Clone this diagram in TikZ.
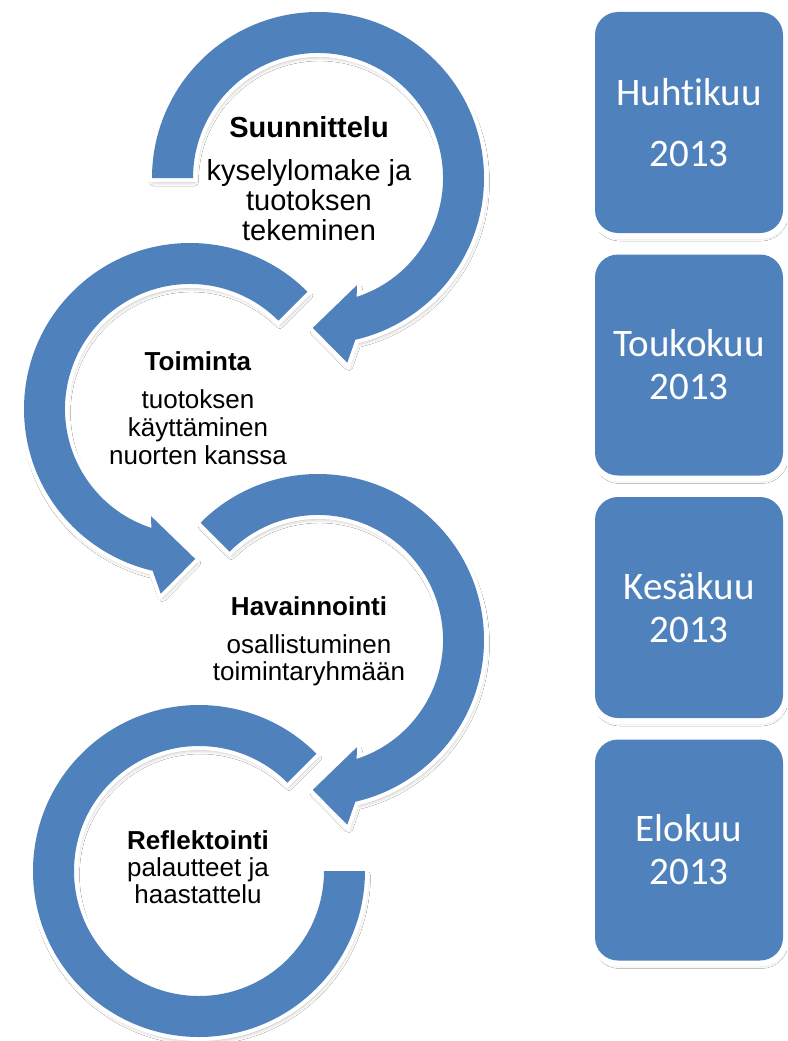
\documentclass[tikz,border=0pt]{standalone}
\usepackage{fontspec}
\setmainfont{Liberation Sans}
\newfontfamily\calibfont[Ligatures=NoCommon]{Carlito}
\usetikzlibrary{shadows.blur}

\definecolor{bandblue}{RGB}{79,129,189}

\begin{document}
\begin{tikzpicture}[x=1pt,y=1pt,
  band/.style={fill=bandblue,
    blur shadow={shadow xshift=1.5pt,shadow yshift=-4pt,shadow blur radius=4pt,shadow opacity=30},
    preaction={draw=white,line width=8pt,line join=miter}},
  stagetext/.style={align=center,inner sep=0pt,anchor=north,text=black},
  monthbox/.style={fill=bandblue,rounded corners=23pt,minimum width=188pt,minimum height=221pt,
    inner sep=0pt,align=center,text=white,font=\calibfont\fontsize{39}{43}\selectfont,
    blur shadow={shadow xshift=1.5pt,shadow yshift=-4pt,shadow blur radius=4pt,shadow opacity=30},
    preaction={draw=white,line width=12pt}}]
\path[fill=white] (0,0) rectangle (787,-1041);
\useasboundingbox (0,0) rectangle (787,-1041);

\coordinate (c1) at (318,-178);
\coordinate (c2) at (190,-409);
\coordinate (c3) at (318,-640);
\coordinate (c4) at (199,-871);

% circle arrows
\begin{scope}[shift={(c1)}]
\path[band] (180:166) arc[start angle=180,end angle=-77,radius=166] -- (-81:187) -- (-92:150)
  -- (-70:114) -- (-72:125) arc[start angle=-72,end angle=180,radius=125] -- cycle;
\end{scope}
\begin{scope}[shift={(c2)}]
\path[band] (45:166) arc[start angle=45,end angle=257,radius=166] -- (261:187) -- (272:150)
  -- (250:114) -- (252:125) arc[start angle=252,end angle=45,radius=125] -- cycle;
\end{scope}
\begin{scope}[shift={(c3)}]
\path[band] (135:166) arc[start angle=135,end angle=-77,radius=166] -- (-81:187) -- (-92:150)
  -- (-70:114) -- (-72:125) arc[start angle=-72,end angle=135,radius=125] -- cycle;
\end{scope}
\begin{scope}[shift={(c4)}]
\path[band] (45:166) arc[start angle=45,end angle=360,radius=166] -- (0:125)
  arc[start angle=360,end angle=45,radius=125] -- cycle;
\end{scope}

% stage texts
\node[stagetext,font=\fontsize{29}{30}\selectfont] (suun) at (309,-116)
  {\textbf{Suunnittelu}\\[13pt]kyselylomake ja\\tuotoksen\\tekeminen};
\node[stagetext,font=\fontsize{26}{28}\selectfont] (toim) at (198,-351)
  {\textbf{Toiminta}\\[10pt]tuotoksen\\käyttäminen\\nuorten kanssa};
\node[stagetext,font=\fontsize{26}{27.5}\selectfont] (hav) at (309,-596)
  {\textbf{Havainnointi}\\[10.5pt]osallistuminen\\toimintaryhmään};
\node[stagetext,font=\fontsize{26}{27}\selectfont] (ref) at (198,-830)
  {\textbf{Reflektointi}\\palautteet ja\\haastattelu};

% months
\node[monthbox] (huhti) at (689,-122.5) {Huhtikuu\\[18pt]2013};
\node[monthbox] (touko) at (689,-365) {Toukokuu\\2013};
\node[monthbox] (kesa) at (689,-607.5) {Kesäkuu\\2013};
\node[monthbox] (elo) at (689,-850) {Elokuu\\2013};
\end{tikzpicture}
\end{document}
